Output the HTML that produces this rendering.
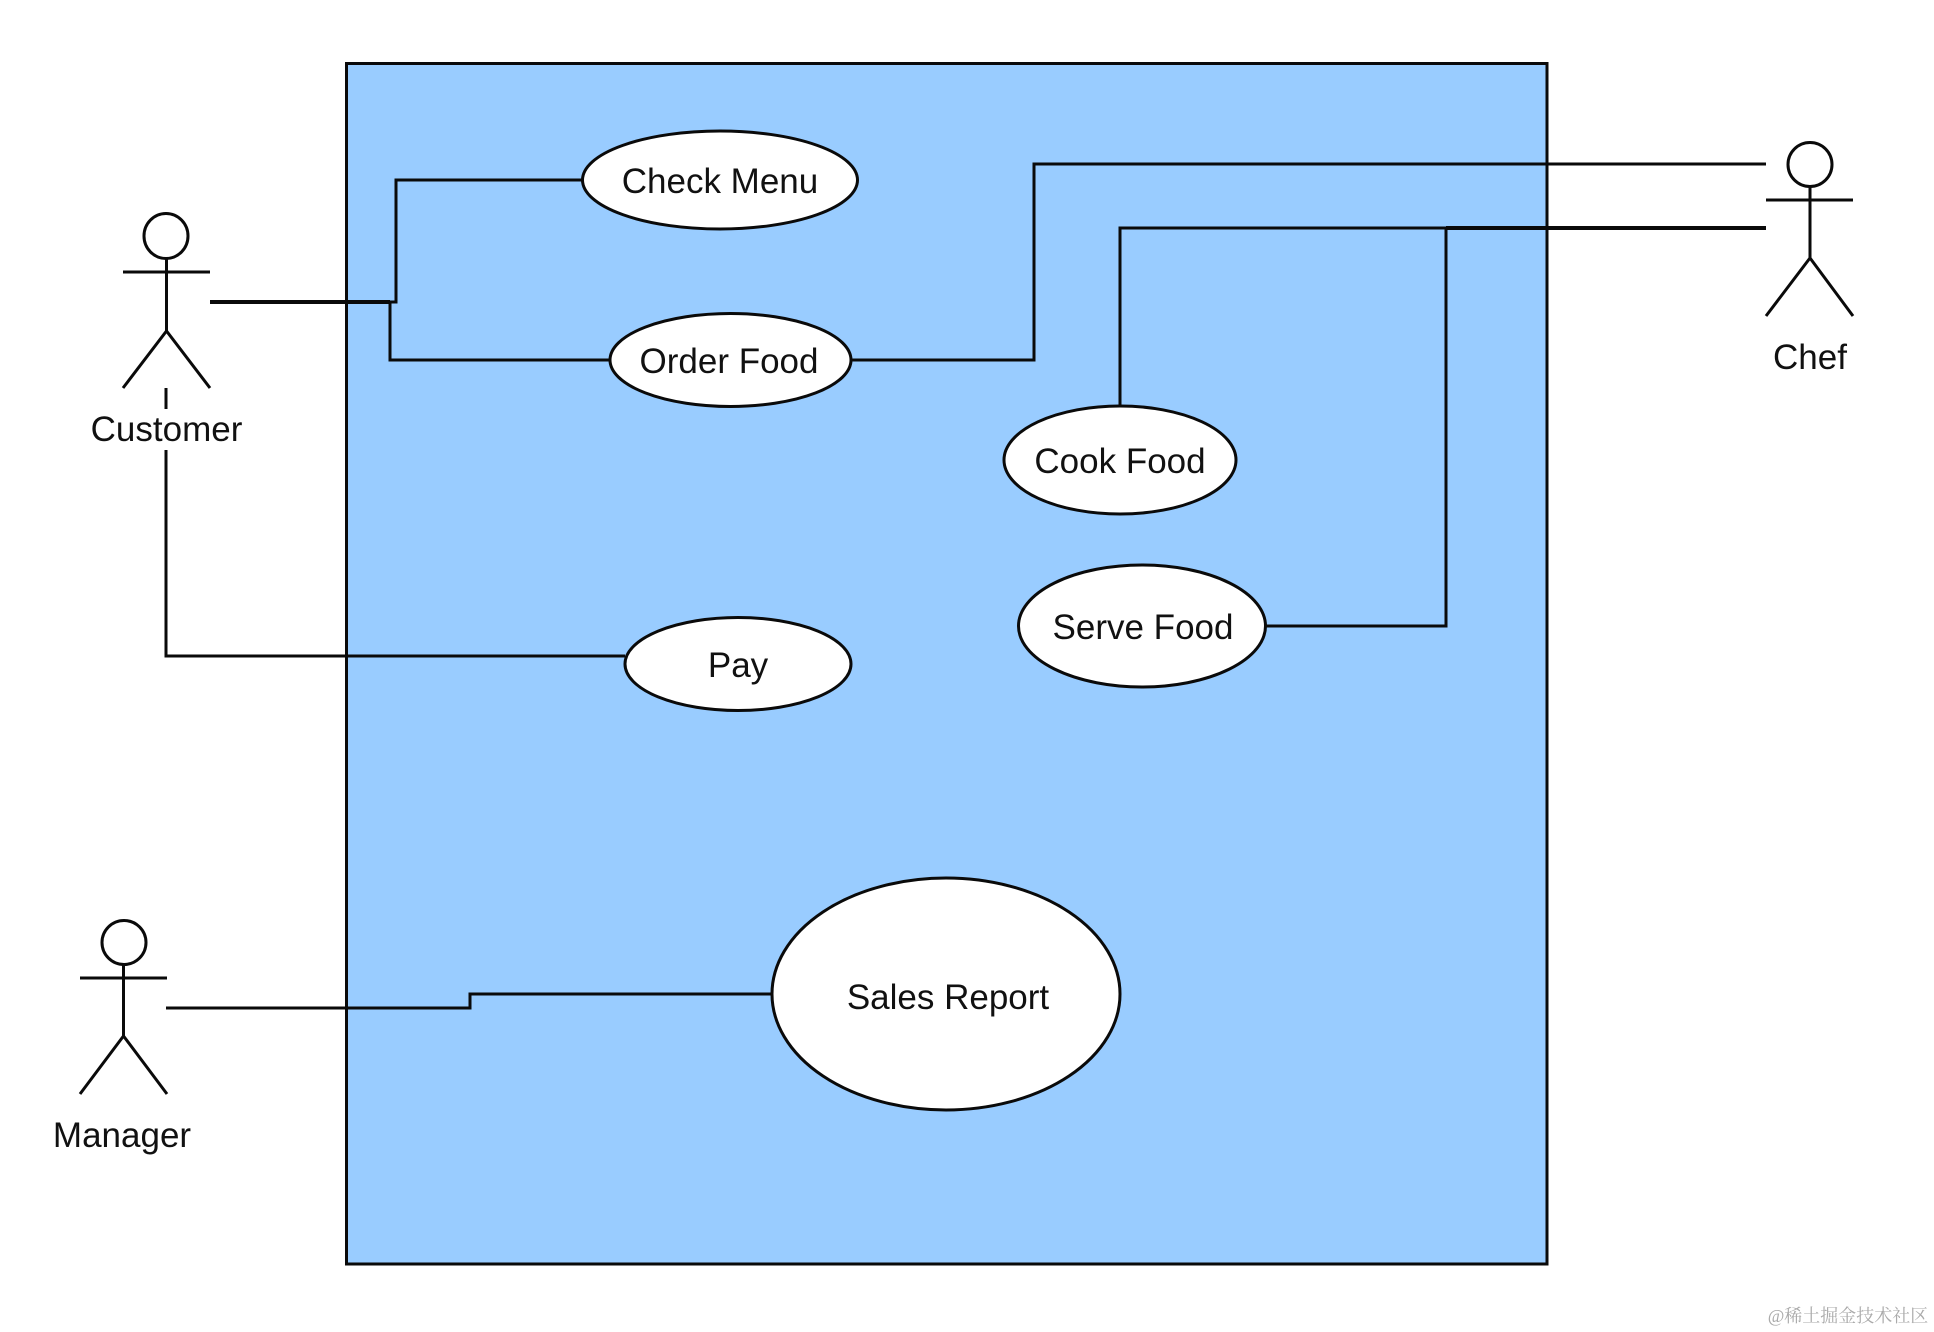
<!DOCTYPE html>
<html><head><meta charset="utf-8"><style>
html,body{margin:0;padding:0;background:#fff;width:1934px;height:1332px;overflow:hidden}
svg{display:block}
text{font-family:"Liberation Sans",sans-serif;font-size:35px;fill:#111;text-anchor:middle}
</style></head><body>
<svg width="1934" height="1332" viewBox="0 0 1934 1332" xmlns="http://www.w3.org/2000/svg">
<rect x="346.5" y="63.5" width="1200.5" height="1200.5" fill="#99ccff" stroke="#0a0a0a" stroke-width="3"/>
<g fill="none" stroke="#0a0a0a" stroke-width="3">
<path d="M210 302H396V180H582" />
<path d="M210 302H390V360H610" />
<path d="M210 302H390" stroke-width="4"/>
<path d="M166 388V409M166 450V656H625" />
<path d="M851 360H1034V164H1766" />
<path d="M1120 406V228H1766" />
<path d="M1446 228H1766" stroke-width="4"/>
<path d="M1265 626H1446V228" />
<path d="M166 1008H470V994H772" />
</g>
<g fill="#fff" stroke="#0a0a0a" stroke-width="3">
<ellipse cx="720" cy="180" rx="137.500" ry="49"/>
<ellipse cx="730.500" cy="360" rx="120.500" ry="46.500"/>
<ellipse cx="1120" cy="460" rx="116" ry="54"/>
<ellipse cx="1142" cy="626" rx="123.500" ry="61"/>
<ellipse cx="738" cy="664" rx="113" ry="46.500"/>
<ellipse cx="946" cy="994" rx="174" ry="116"/>
</g>
<g fill="none" stroke="#0a0a0a" stroke-width="3">
<ellipse cx="166" cy="236" rx="22" ry="22.500"/>
<path d="M123 272H210M166.500 258V331M123 388L166.500 331L210 388"/>
<ellipse cx="1810" cy="164.500" rx="22" ry="22"/>
<path d="M1766 200H1853M1810 186V258M1766 316L1810 258L1853 316"/>
<ellipse cx="124" cy="942.500" rx="22" ry="22"/>
<path d="M80 978H167M123.500 964V1036M80 1094L123.500 1036L167 1094"/>
</g>
<text x="166.500" y="441">Customer</text>
<text x="1810" y="369">Chef</text>
<text x="122" y="1147">Manager</text>
<text x="720" y="193">Check Menu</text>
<text x="729" y="373">Order Food</text>
<text x="1120" y="473">Cook Food</text>
<text x="1143" y="639">Serve Food</text>
<text x="738" y="677">Pay</text>
<text x="948" y="1009">Sales Report</text>
<text x="1848" y="1322" style="font-family:'Liberation Serif','Noto Serif CJK SC',serif;font-size:18px;fill:#aaa">@稀土掘金技术社区</text>
</svg>
</body></html>
